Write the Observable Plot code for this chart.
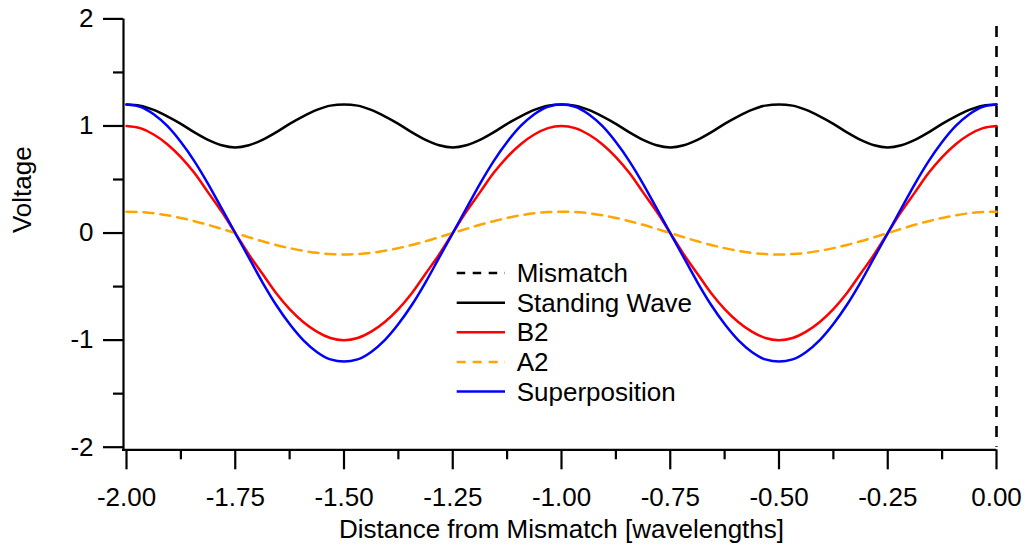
<!DOCTYPE html>
<html>
<head>
<meta charset="utf-8">
<script src="https://cdn.jsdelivr.net/npm/d3@7"></script>
<script src="https://cdn.jsdelivr.net/npm/@observablehq/plot@0.6"></script>
<style>
  html, body { margin: 0; padding: 0; background: #fff; overflow: hidden; }
  #chart { position: relative; width: 1026px; height: 546px; }
</style>
</head>
<body>
<div id="chart"></div>
<script>
// ---- data ----
const distance = [
  -2, -1.96875, -1.9375, -1.90625, -1.875, -1.84375, -1.8125, -1.78125,
  -1.75, -1.71875, -1.6875, -1.65625, -1.625, -1.59375, -1.5625, -1.53125,
  -1.5, -1.46875, -1.4375, -1.40625, -1.375, -1.34375, -1.3125, -1.28125,
  -1.25, -1.21875, -1.1875, -1.15625, -1.125, -1.09375, -1.0625, -1.03125,
  -1, -0.96875, -0.9375, -0.90625, -0.875, -0.84375, -0.8125, -0.78125,
  -0.75, -0.71875, -0.6875, -0.65625, -0.625, -0.59375, -0.5625, -0.53125,
  -0.5, -0.46875, -0.4375, -0.40625, -0.375, -0.34375, -0.3125, -0.28125,
  -0.25, -0.21875, -0.1875, -0.15625, -0.125, -0.09375, -0.0625, -0.03125, 0];
const standingWave = [
  1.2, 1.19, 1.15, 1.09, 1.02, 0.94, 0.87, 0.82, 0.8, 0.82, 0.87, 0.94, 1.02, 1.09, 1.15, 1.19,
  1.2, 1.19, 1.15, 1.09, 1.02, 0.94, 0.87, 0.82, 0.8, 0.82, 0.87, 0.94, 1.02, 1.09, 1.15, 1.19,
  1.2, 1.19, 1.15, 1.09, 1.02, 0.94, 0.87, 0.82, 0.8, 0.82, 0.87, 0.94, 1.02, 1.09, 1.15, 1.19,
  1.2, 1.19, 1.15, 1.09, 1.02, 0.94, 0.87, 0.82, 0.8, 0.82, 0.87, 0.94, 1.02, 1.09, 1.15, 1.19, 1.2];
const b2 = [
  1, 0.98, 0.92, 0.83, 0.71, 0.56, 0.38, 0.2, 0, -0.2, -0.38, -0.56, -0.71, -0.83, -0.92, -0.98,
  -1, -0.98, -0.92, -0.83, -0.71, -0.56, -0.38, -0.2, 0, 0.2, 0.38, 0.56, 0.71, 0.83, 0.92, 0.98,
  1, 0.98, 0.92, 0.83, 0.71, 0.56, 0.38, 0.2, 0, -0.2, -0.38, -0.56, -0.71, -0.83, -0.92, -0.98,
  -1, -0.98, -0.92, -0.83, -0.71, -0.56, -0.38, -0.2, 0, 0.2, 0.38, 0.56, 0.71, 0.83, 0.92, 0.98, 1];
const a2 = [
  0.2, 0.196, 0.185, 0.166, 0.141, 0.111, 0.077, 0.039, 0, -0.039, -0.077, -0.111, -0.141, -0.166, -0.185, -0.196,
  -0.2, -0.196, -0.185, -0.166, -0.141, -0.111, -0.077, -0.039, 0, 0.039, 0.077, 0.111, 0.141, 0.166, 0.185, 0.196,
  0.2, 0.196, 0.185, 0.166, 0.141, 0.111, 0.077, 0.039, 0, -0.039, -0.077, -0.111, -0.141, -0.166, -0.185, -0.196,
  -0.2, -0.196, -0.185, -0.166, -0.141, -0.111, -0.077, -0.039, 0, 0.039, 0.077, 0.111, 0.141, 0.166, 0.185, 0.196, 0.2];
const superposition = [
  1.2, 1.18, 1.11, 1.0, 0.85, 0.67, 0.46, 0.23, 0, -0.23, -0.46, -0.67, -0.85, -1.0, -1.11, -1.18,
  -1.2, -1.18, -1.11, -1.0, -0.85, -0.67, -0.46, -0.23, 0, 0.23, 0.46, 0.67, 0.85, 1.0, 1.11, 1.18,
  1.2, 1.18, 1.11, 1.0, 0.85, 0.67, 0.46, 0.23, 0, -0.23, -0.46, -0.67, -0.85, -1.0, -1.11, -1.18,
  -1.2, -1.18, -1.11, -1.0, -0.85, -0.67, -0.46, -0.23, 0, 0.23, 0.46, 0.67, 0.85, 1.0, 1.11, 1.18, 1.2];
const mismatchPosition = [0];

const xTicks = [-2, -1.75, -1.5, -1.25, -1, -0.75, -0.5, -0.25, 0];
const xTickLabels = ["-2.00", "-1.75", "-1.50", "-1.25", "-1.00", "-0.75", "-0.50", "-0.25", "0.00"];
const xMinorTicks = [-1.875, -1.625, -1.375, -1.125, -0.875, -0.625, -0.375, -0.125];
const yTicks = [-2, -1, 0, 1, 2];
const yTickLabels = ["-2", "-1", "0", "1", "2"];
const yMinorTicks = [-1.5, -0.5, 0.5, 1.5];
const xDomain = [-2, 0];
const yDomain = [-2, 2];

const xTitle = "Distance from Mismatch [wavelengths]";
const yTitle = "Voltage";
const legendNames = ["Mismatch", "Standing Wave", "B2", "A2", "Superposition"];
const legendColors = ["#000000", "#000000", "#ff0000", "#ffa500", "#0000ff"];
const legendDash = ["8.5,7.5", null, null, "9,7", null];

// ---- table ----
const rows = distance.map((d, i) => ({
  distance: d,
  standing: standingWave[i],
  b2: b2[i],
  a2: a2[i],
  sup: superposition[i]
}));

const FONT = "'Liberation Sans', Arial, Helvetica, sans-serif";
const FS = 26;
const W = 1026, H = 546;
const mL = 126, mR = 30, mT = 18.4, mB = 99.3;
const LW = 2.5;

const plot = Plot.plot({
  width: W,
  height: H,
  marginLeft: mL,
  marginRight: mR,
  marginTop: mT,
  marginBottom: mB,
  style: { fontFamily: FONT, fontSize: FS + "px", background: "#fff", color: "#000" },
  x: { domain: xDomain, axis: null },
  y: { domain: yDomain, axis: null },
  marks: [
    // axis lines
    Plot.ruleX([xDomain[0]], { dx: -3, insetBottom: -3.6, stroke: "#000", strokeWidth: 2.2 }),
    Plot.ruleY([yDomain[0]], { dy: 2.6, insetLeft: -4, stroke: "#000", strokeWidth: 2.2 }),
    // y axis ticks
    Plot.axisY({ ticks: yTicks, tickSize: 20, tickPadding: 10, dx: -3, strokeWidth: 2.2,
      tickFormat: d => yTickLabels[yTicks.indexOf(d)], label: null, fontSize: FS, fontFamily: FONT }),
    Plot.axisY({ ticks: yMinorTicks, tickSize: 10, dx: -3, strokeWidth: 2.2,
      tickFormat: () => "", label: null }),
    // x axis ticks
    Plot.axisX({ ticks: xTicks, tickSize: 20, tickPadding: 18, dy: 2.6, strokeWidth: 2.2,
      tickFormat: d => xTickLabels[xTicks.indexOf(d)], label: null, fontSize: FS, fontFamily: FONT }),
    Plot.axisX({ ticks: xMinorTicks, tickSize: 10, dy: 2.6, strokeWidth: 2.2,
      tickFormat: () => "", label: null }),
    // titles
    Plot.text([xTitle], { frameAnchor: "bottom", lineAnchor: "middle", dy: 82, fontSize: FS, fontFamily: FONT, fill: "#000" }),
    Plot.text([yTitle], { frameAnchor: "left", lineAnchor: "middle", rotate: -90, dx: -103.6, fontSize: FS, fontFamily: FONT, fill: "#000" }),
    // data
    Plot.ruleX(mismatchPosition, { stroke: "#000", strokeWidth: 2.6, strokeDasharray: "11,9", strokeDashoffset: 12.4 }),
    Plot.line(rows, { x: "distance", y: "standing", stroke: "#000000", strokeWidth: LW, curve: "monotone-x" }),
    Plot.line(rows, { x: "distance", y: "b2", stroke: "#ff0000", strokeWidth: LW, curve: "monotone-x" }),
    Plot.line(rows, { x: "distance", y: "a2", stroke: "#ffa500", strokeWidth: LW, strokeDasharray: "10,7", curve: "monotone-x" }),
    Plot.line(rows, { x: "distance", y: "sup", stroke: "#0000ff", strokeWidth: LW, curve: "monotone-x" })
  ]
});

document.getElementById("chart").appendChild(plot);

// ---- legend (inside the SVG, pixel-positioned) ----
const svg = d3.select(plot);
const lg = svg.append("g")
  .attr("font-family", FONT).attr("font-size", FS).attr("text-anchor", "start");
const lx0 = 456.7, lx1 = 505, tx = 516.7, ly0 = 273, lstep = 29.65;
legendNames.forEach((name, i) => {
  const y = ly0 + i * lstep;
  const ln = lg.append("line")
    .attr("x1", lx0).attr("x2", lx1).attr("y1", y).attr("y2", y)
    .attr("stroke", legendColors[i]).attr("stroke-width", LW);
  if (legendDash[i]) ln.attr("stroke-dasharray", legendDash[i]);
  lg.append("text").attr("x", tx).attr("y", y).attr("dy", "0.35em")
    .attr("text-anchor", "start").attr("fill", "#000").text(name);
});
</script>
</body>
</html>
